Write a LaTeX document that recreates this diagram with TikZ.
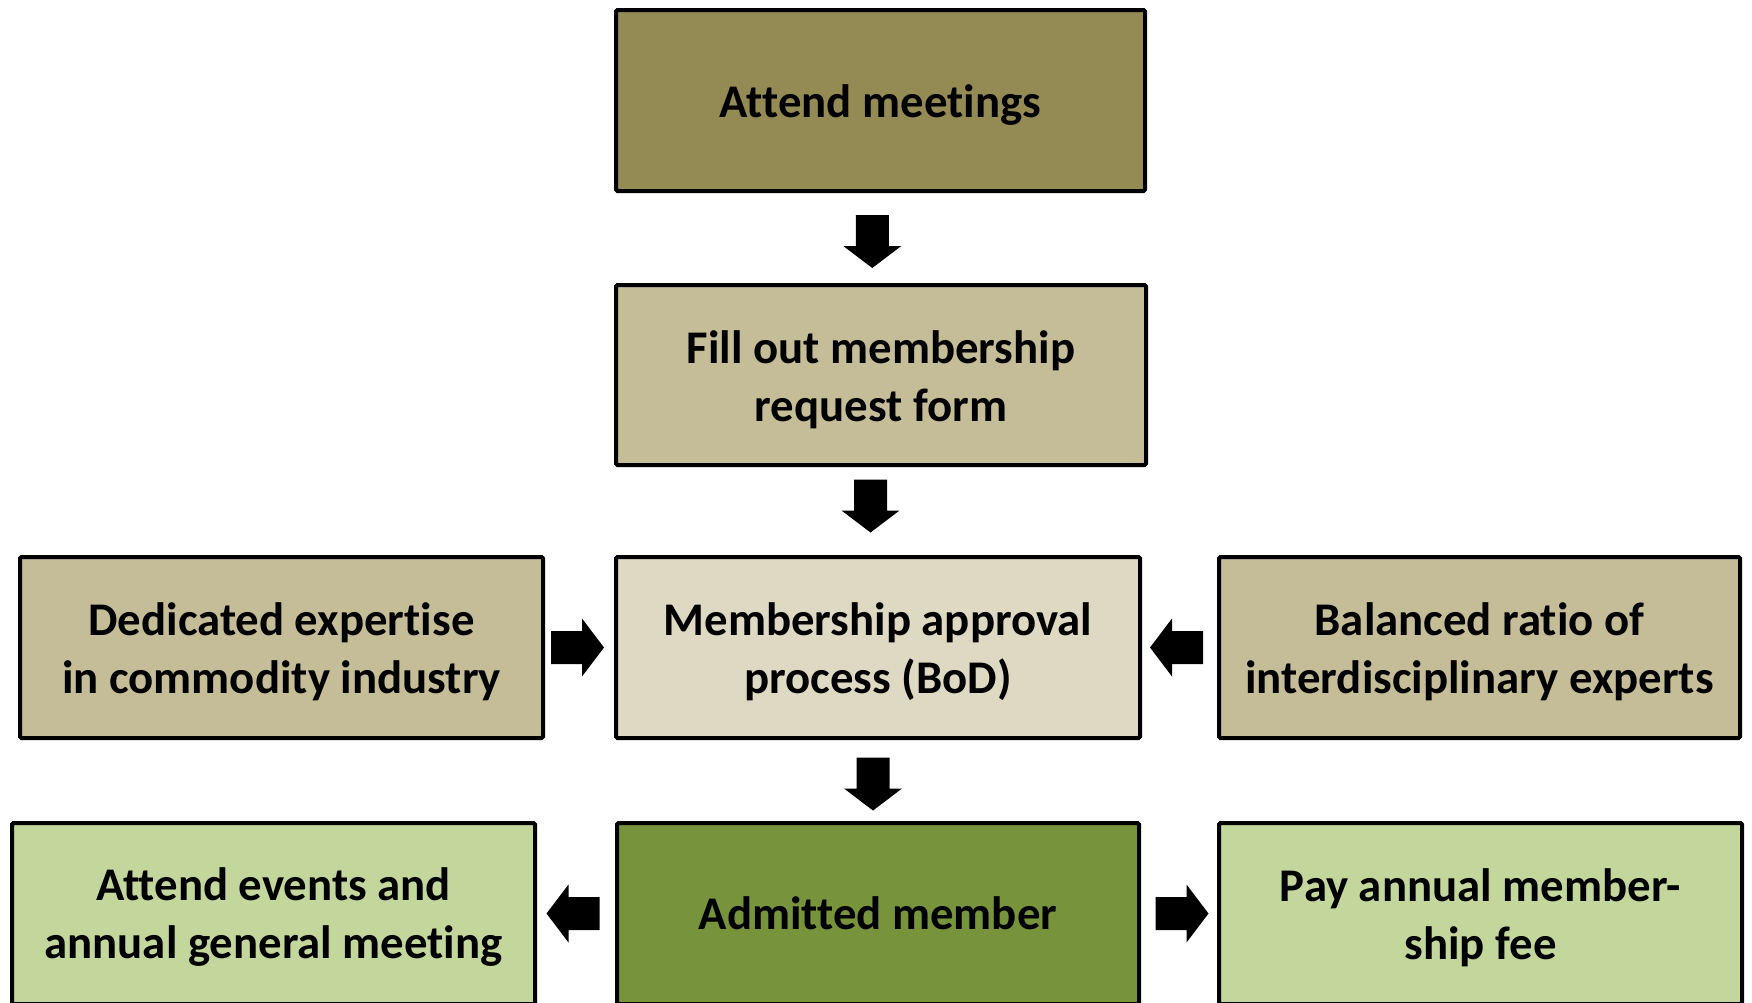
\documentclass[tikz,border=0pt]{standalone}
\usepackage{fontspec}
\setmainfont{Carlito}[Ligatures={NoCommon}]
\usetikzlibrary{calc}
\definecolor{oliveD}{HTML}{948A54}
\definecolor{tanM}{HTML}{C4BD97}
\definecolor{tanL}{HTML}{DDD9C3}
\definecolor{greenD}{HTML}{77933C}
\definecolor{greenL}{HTML}{C3D69B}
\tikzset{
  box/.style={draw=black, line width=4pt, rounded corners=1.5pt, inner sep=0pt},
  txt/.style={align=center, font=\fontsize{46.8}{58}\selectfont\bfseries, inner sep=0pt},
  blockarrow/.pic={\fill[black] (-26.5,-16.5) -- (4.5,-16.5) -- (4.5,-29) -- (26.5,0)
      -- (4.5,29) -- (4.5,16.5) -- (-26.5,16.5) -- cycle;}
}
\begin{document}
\begin{tikzpicture}[x=1pt,y=-1pt]
\useasboundingbox (0,0) rectangle (1752,1002);
\clip (0,0) rectangle (1752,1002);
\fill[white] (0,0) rectangle (1752,1002);
\node[box, fill=oliveD, minimum width=529, minimum height=181] (n1) at (880.5,100.5) {};
\node[box, fill=tanM, minimum width=530, minimum height=180] (n2) at (881,375) {};
\node[box, fill=tanL, minimum width=524, minimum height=181] (n3) at (878,647.5) {};
\node[box, fill=tanM, minimum width=523, minimum height=181] (nl) at (281.5,647.5) {};
\node[box, fill=tanM, minimum width=521, minimum height=181] (nr) at (1479.5,647.5) {};
\node[box, fill=greenD, minimum width=522, minimum height=181] (n4) at (878,913.5) {};
\node[box, fill=greenL, minimum width=523, minimum height=181] (bl) at (273.5,913.5) {};
\node[box, fill=greenL, minimum width=523, minimum height=181] (br) at (1480.5,913.5) {};
% texts
\node[txt] (n1t) at ([yshift=-4.5pt]n1.center) {Attend meetings};
\node[txt] (n2t) at ([yshift=-4.5pt]n2.center) {Fill out membership\\request form};
\node[txt] (n3t) at ([yshift=-4.5pt]n3.center) {Membership approval\\process (BoD)};
\node[txt] (nlt) at ([yshift=-4.5pt]nl.center) {Dedicated expertise\\in commodity industry};
\node[txt] (nrt) at ([yshift=-4.5pt]nr.center) {Balanced ratio of\\interdisciplinary experts};
\node[txt] (n4t) at ([yshift=0pt]n4.center) {Admitted member};
\node[txt] (blt) at ([yshift=-4pt]bl.center) {Attend events and\\annual general meeting};
\node[txt] (brt) at ([yshift=-4pt]br.center) {Pay annual member-\\ship fee};
% block arrows
\pic[rotate=-90] at ($(n1.south)!0.5!(n2.north)+(-8.5,3.5)$) {blockarrow};
\pic[rotate=-90] at ($(n2.south)!0.5!(n3.north)+(-9,-5)$) {blockarrow};
\pic[rotate=-90] at ($(n3.south)!0.5!(n4.north)+(-5,3.5)$) {blockarrow};
\pic at ($(nl.east)!0.5!(n3.west)+(-2,0)$) {blockarrow};
\pic[rotate=180] at ($(n3.east)!0.5!(nr.west)+(-3,0)$) {blockarrow};
\pic[rotate=180] at ($(n4.west)!0.5!(bl.east)+(-3,0)$) {blockarrow};
\pic at ($(n4.east)!0.5!(br.west)+(3,0)$) {blockarrow};
\end{tikzpicture}
\end{document}
